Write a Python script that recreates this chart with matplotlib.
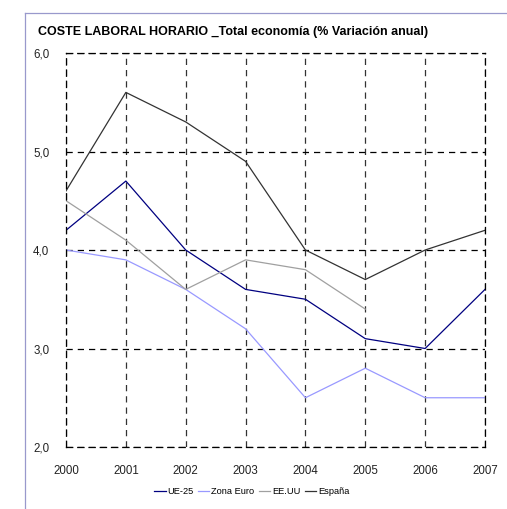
import matplotlib
matplotlib.use("Agg")
import matplotlib.pyplot as plt
from matplotlib.lines import Line2D

plt.rcParams['font.family'] = ['Liberation Sans', 'DejaVu Sans']

years = [2000, 2001, 2002, 2003, 2004, 2005, 2006, 2007]
ue25 = [4.2, 4.7, 4.0, 3.6, 3.5, 3.1, 3.0, 3.6]
zona_euro = [4.0, 3.9, 3.6, 3.2, 2.5, 2.8, 2.5, 2.5]
eeuu_years = [2000, 2001, 2002, 2003, 2004, 2005]
eeuu = [4.5, 4.1, 3.6, 3.9, 3.8, 3.4]
espana = [4.6, 5.6, 5.3, 4.9, 4.0, 3.7, 4.0, 4.2]
yticks = [2.0, 3.0, 4.0, 5.0, 6.0]
ytick_labels = ["2,0", "3,0", "4,0", "5,0", "6,0"]
title = "COSTE LABORAL HORARIO _Total economía (% Variación anual)"

fig = plt.figure(figsize=(5.07, 5.09), dpi=100)
ax = fig.add_axes([66/507, 1-447/509, (485-66)/507, (447-53)/509])

ax.plot(years, ue25, color='#000080', lw=0.9, label='UE-25')
ax.plot(years, zona_euro, color='#9999FF', lw=0.9, label='Zona Euro')
ax.plot(eeuu_years, eeuu, color='#A0A0A0', lw=0.9, label='EE.UU')
ax.plot(years, espana, color='#333333', lw=0.9, label='España')

ax.set_xlim(2000, 2007)
ax.set_ylim(2.0, 6.0)
ax.set_xticks(years)
ax.set_xticklabels([str(y) for y in years], fontsize=8.3, color='#222222')
ax.set_yticks(yticks)
ax.set_yticklabels(ytick_labels, fontsize=8.3, color='#222222')
ax.tick_params(axis='x', length=0, pad=13)
ax.tick_params(axis='y', length=0, pad=12)
ax.grid(True, color='black', linestyle=(0, (5, 4)), lw=0.9)
ax.xaxis.grid(True, color='#333333')
for s in ax.spines.values():
    s.set_color('black')
    s.set_linestyle((0, (5, 4)))
    s.set_linewidth(0.9)
ax.set_axisbelow(True)

fig.text(38/507, 1-32/509, title, fontsize=9.0, fontweight='bold', va='center', ha='left')

leg = fig.legend(loc='center', bbox_to_anchor=(252/507, 1-492/509), ncol=4, frameon=False,
                 fontsize=6.7, handlelength=1.2, handletextpad=0.2, columnspacing=0.5)

fig.add_artist(Line2D([25/507, 25/507], [0, 1-13/509], color='#9999CC', lw=0.9, transform=fig.transFigure))
fig.add_artist(Line2D([25/507, 1], [1-13/509, 1-13/509], color='#9999CC', lw=0.9, transform=fig.transFigure))

fig.savefig('out.png', dpi=100)
